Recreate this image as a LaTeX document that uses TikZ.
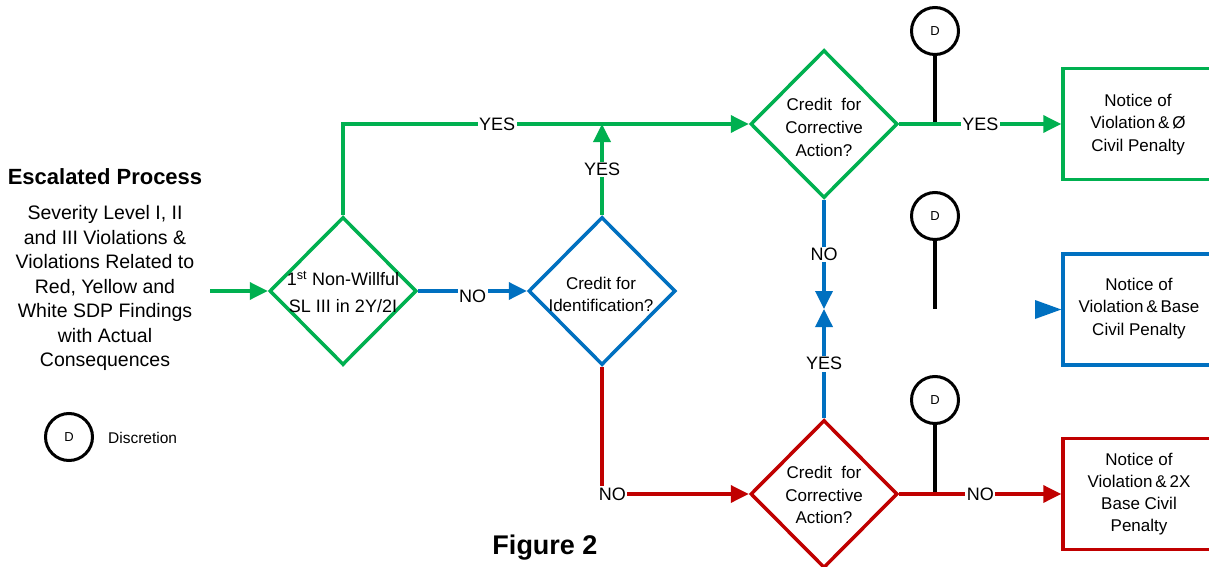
\documentclass[tikz,border=0pt]{standalone}
\usepackage{fontspec}
\setmainfont{Liberation Sans}
\usetikzlibrary{shapes.geometric,arrows.meta}
\definecolor{cgreen}{HTML}{00B050}
\definecolor{cblue}{HTML}{0070C0}
\definecolor{cred}{HTML}{C00000}
\begin{document}
\begin{tikzpicture}[x=1pt,y=-1pt,
  txt/.style={font=\fontsize{17}{24}\selectfont, align=center, inner sep=0pt},
  dec/.style={diamond, draw, line width=3.5pt, minimum width=147pt, minimum height=148pt, inner sep=0pt, aspect=1},
  res/.style={draw, line width=3.5pt, minimum width=152pt, minimum height=111pt, inner sep=0pt},
  dnode/.style={circle, draw=black, line width=3pt, minimum size=47pt, inner sep=0pt, font=\fontsize{13}{13}\selectfont},
  conn/.style={line width=3.5pt},
  arr/.style={conn, -{Triangle[length=18pt,width=17pt]}},
  lab/.style={fill=white, font=\fontsize{18}{18}\selectfont, inner sep=1.5pt},
  gr/.style={draw=cgreen}, bl/.style={draw=cblue}, rd/.style={draw=cred}]
\clip (0,0) rectangle (1209,567);
\fill[white] (0,0) rectangle (1209,567);

% left text
\node[font=\bfseries\fontsize{22}{24}\selectfont, inner sep=0pt] (title) at (105,177) {Escalated Process};
\node[txt, font=\fontsize{19.5}{24.5}\selectfont] (desc) at (105,288) {Severity Level I, II\\and III Violations \&\\Violations Related to\\Red, Yellow and\\White SDP Findings\\with Actual\\Consequences};

% legend
\node[dnode] (legD) at (69,437) {D};
\node[font=\fontsize{15.5}{15.5}\selectfont, anchor=west, inner sep=0pt] (legT) at (108,438) {Discretion};

% decisions
\node[dec, gr] (d1) at (343,291) {};
\node[txt, font=\fontsize{18}{27}\selectfont] (t1) at (343,292) {1\textsuperscript{st} Non-Willful\\SL III in 2Y/2I};
\node[dec, bl] (d2) at (602,291) {};
\node[txt, font=\fontsize{17}{22}\selectfont] (t2) at (601,294) {Credit for\\Identification?};
\node[dec, gr] (d3) at (824,124) {};
\node[txt, font=\fontsize{17}{23}\selectfont] (t3) at (824,127) {Credit\ \ for\\Corrective\\Action?};
\node[dec, rd] (d4) at (824,494) {};
\node[txt, font=\fontsize{17}{22.5}\selectfont] (t4) at (824,495) {Credit\ \ for\\Corrective\\Action?};

% results
\node[res, gr] (r1) at (1139,124) {};
\node[txt, font=\fontsize{17}{22.5}\selectfont] (rt1) at (1138,124.5) {Notice of\\Violation\,\&\,Ø\\Civil Penalty};
\node[res, bl] (r2) at (1139,309.5) {};
\node[txt, font=\fontsize{17}{22.5}\selectfont] (rt2) at (1139,308.5) {Notice of\\Violation\,\&\,Base\\Civil Penalty};
\node[res, rd] (r3) at (1139,494) {};
\node[txt, font=\fontsize{17}{22}\selectfont] (rt3) at (1139,494) {Notice of\\Violation\,\&\,2X\\Base Civil\\Penalty};

% discretion circles
\node[dnode] (c1) at (935,31) {D};
\node[dnode] (c2) at (935,216) {D};
\node[dnode] (c3) at (935,400) {D};
\coordinate (j3) at (935,124);
\coordinate (j4) at (935,309);
\coordinate (j5) at (935,494);
\draw[conn, black] (c1.south) -- (j3);
\draw[conn, black] (c2.south) -- (j4);
\draw[conn, black] (c3.south) -- (j5);

% connectors
\coordinate (in) at (210,291);
\draw[arr, gr] (in) -- (d1.west);
\draw[arr, gr] (d1.north) |- node[lab, pos=0.69] (y1) {YES} (d3.west);
\draw[arr, bl] (d1.east) -- node[lab, yshift=-5pt] (n1) {NO} (d2.west);
\coordinate (j1) at (602,124);
\draw[arr, gr] (d2.north) -- node[lab] (y2) {YES} (j1);
\draw[arr, rd] (d2.south) |- node[lab, pos=0.535] (n2) {NO} (d4.west);
\draw[arr, gr] (d3.east) -- node[lab, pos=0.5] (y3) {YES} (r1.west);
\coordinate (m) at (824,309);
\draw[arr, bl] (d3.south) -- node[lab] (n3) {NO} (m);
\draw[arr, bl] (d4.north) -- node[lab] (y4) {YES} (m);
\draw[arr, rd] (d4.east) -- node[lab, pos=0.5] (n4) {NO} (r3.west);

% lone arrowhead to box 2
\coordinate (lone) at (1035,309.5);
\fill[cblue] (1035,300) -- (r2.west) -- (1035,319) -- cycle;

% figure caption
\node[font=\bfseries\fontsize{27}{27}\selectfont, inner sep=0pt] (fig) at (545,548) {Figure 2};
\end{tikzpicture}
\end{document}
